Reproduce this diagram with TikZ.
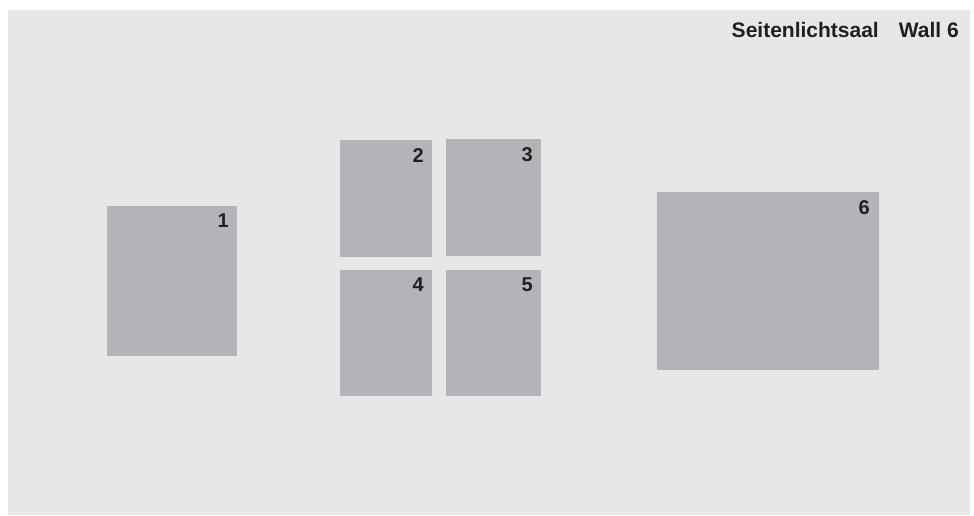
\documentclass[tikz,border=0pt]{standalone}
\usepackage{fontspec}
\setmainfont{Liberation Sans}
\definecolor{bgc}{HTML}{E6E7E9}
\definecolor{boxc}{HTML}{B3B4B7}
\definecolor{txt}{HTML}{231F20}
\begin{document}
\begin{tikzpicture}[x=1pt,y=-1pt,
  panel/.style={fill=boxc,draw=none},
  num/.style={anchor=north east,inner sep=0pt,text=txt,font=\fontsize{20}{20}\selectfont\bfseries},
  ttl/.style={anchor=base east,inner sep=0pt,text=txt,font=\fontsize{21}{21}\selectfont\bfseries}]
\useasboundingbox (0,0) rectangle (974,515);
\fill[white] (0,0) rectangle (974,515);
\fill[bgc] (8,10) rectangle (970,515);
\coordinate (b1a) at (107,206); \coordinate (b1b) at (237,356);
\coordinate (b2a) at (340,140); \coordinate (b2b) at (432,257);
\coordinate (b3a) at (446,139); \coordinate (b3b) at (541,256);
\coordinate (b4a) at (340,270); \coordinate (b4b) at (432,396);
\coordinate (b5a) at (446,270); \coordinate (b5b) at (541,396);
\coordinate (b6a) at (657,192); \coordinate (b6b) at (879,370);
\foreach \i in {1,...,6}{
  \fill[panel] (b\i a) rectangle (b\i b);
}
\node[num] (n1) at (229,214) {1};
\node[num] (n2) at (424,148) {2};
\node[num] (n3) at (533,147) {3};
\node[num] (n4) at (424,278) {4};
\node[num] (n5) at (533,278) {5};
\node[num] (n6) at (870,200) {6};
\node[ttl] (wall) at (959,37.5) {Wall 6};
\node[ttl] (room) at (879,37.5) {Seitenlichtsaal};
\end{tikzpicture}
\end{document}
